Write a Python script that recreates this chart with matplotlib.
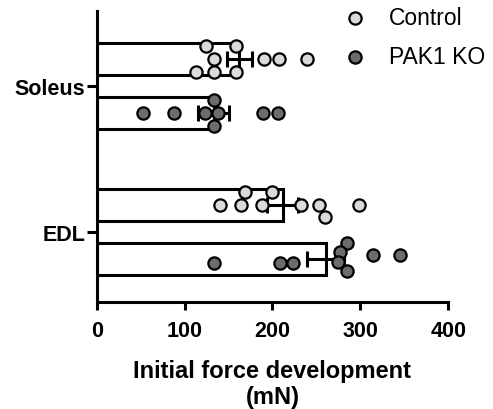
import numpy as np
import matplotlib
matplotlib.use('Agg')
import matplotlib.pyplot as plt

plt.rcParams['font.family'] = ['Liberation Sans', 'DejaVu Sans']

muscles = ['Soleus', 'EDL']
groups = ['Control', 'PAK1 KO']

# individual values (mN)
soleus_ctrl = [124, 159, 134, 190, 208, 239, 113, 134, 159]
soleus_ko = [134, 53, 88, 123, 138, 189, 206, 134]
edl_ctrl = [169, 199, 140, 164, 188, 232, 253, 299, 260]
edl_ko = [285, 277, 315, 345, 275, 133, 209, 224, 285]

# vertical scatter rows (dodge of overlapping points)
soleus_ctrl_row = [-1, -1, 0, 0, 0, 0, 1, 1, 1]
soleus_ko_row = [-1, 0, 0, 0, 0, 0, 0, 1]
edl_ctrl_row = [-1, -1, 0, 0, 0, 0, 0, 0, 0.9]
edl_ko_row = [-1.2, -0.5, -0.27, -0.27, 0.2, 0.3, 0.3, 0.3, 0.9]

data = {
    ('Soleus', 'Control'): (soleus_ctrl, soleus_ctrl_row),
    ('Soleus', 'PAK1 KO'): (soleus_ko, soleus_ko_row),
    ('EDL', 'Control'): (edl_ctrl, edl_ctrl_row),
    ('EDL', 'PAK1 KO'): (edl_ko, edl_ko_row),
}

faces = {'Control': '#dadada', 'PAK1 KO': '#6c6c6c'}
offsets = {'Control': -0.185, 'PAK1 KO': 0.185}

fig = plt.figure(figsize=(4.93, 4.10), dpi=100)
ax = fig.add_axes([0.196, 0.261, 0.713, 0.71])

for i, m in enumerate(muscles):
    for g in groups:
        vals, rows = data[(m, g)]
        vals = np.array(vals, dtype=float)
        y = i + offsets[g]
        mean = vals.mean()
        sem = vals.std(ddof=1) / np.sqrt(len(vals))
        ax.barh(y, mean, height=0.22, color='white', edgecolor='black',
                linewidth=2.2, zorder=2)
        ax.errorbar(mean, y, xerr=sem, fmt='none', ecolor='black',
                    elinewidth=2.2, capsize=5.5, capthick=2.2, zorder=3)
        ax.scatter(vals, y + np.array(rows) * 0.089, s=78, c=faces[g],
                   edgecolors='black', linewidths=1.6, zorder=4,
                   label=g if i == 0 else None)

ax.set_xlim(0, 400)
ax.set_ylim(1.48, -0.514)
ax.set_xticks([0, 100, 200, 300, 400])
ax.set_yticks([0, 1])
ax.set_yticklabels(muscles)

for s in ['top', 'right']:
    ax.spines[s].set_visible(False)
for s in ['left', 'bottom']:
    ax.spines[s].set_linewidth(2.2)
ax.tick_params(axis='x', width=2.2, length=6, labelsize=15.5, pad=7)
ax.tick_params(axis='y', width=2.2, length=7, labelsize=15.5, pad=1)
for lab in ax.get_xticklabels() + ax.get_yticklabels():
    lab.set_fontweight('bold')

ax.set_xlabel('Initial force development\n(mN)', fontsize=17, fontweight='bold',
              labelpad=13, linespacing=1.16)

leg = fig.legend(loc='upper left', bbox_to_anchor=(0.696, 0.983), frameon=False,
                 fontsize=16.5, handlelength=1.0, handletextpad=1.0,
                 labelspacing=0.7, borderpad=0, borderaxespad=0)
leg.set_zorder(10)

fig.savefig('out.png', dpi=100)
